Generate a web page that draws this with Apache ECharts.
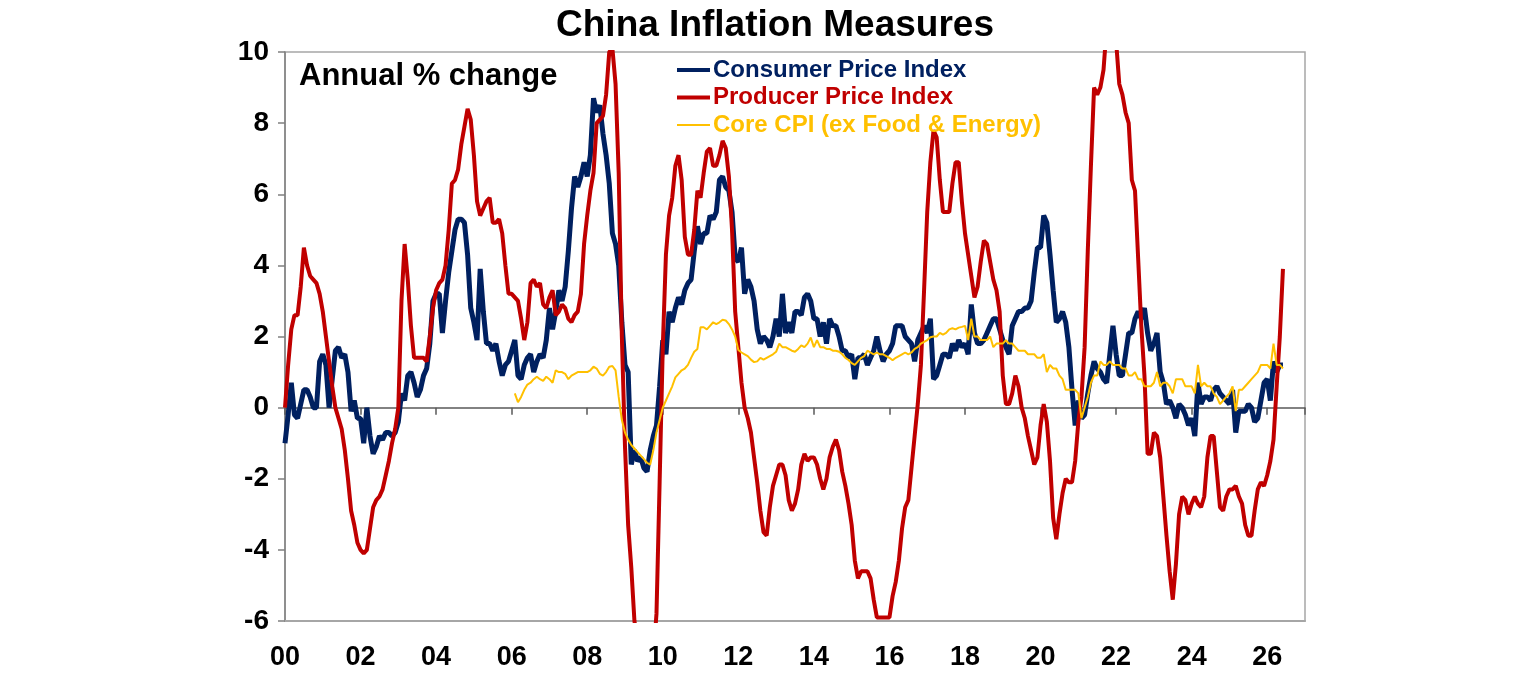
<!DOCTYPE html>
<html>
<head>
<meta charset="utf-8">
<title>China Inflation Measures</title>
<script src="https://cdn.jsdelivr.net/npm/echarts@6/dist/echarts.min.js"></script>
<style>
  html, body { margin: 0; padding: 0; background: #fff; }
  #chart { width: 1536px; height: 680px; }
</style>
</head>
<body>
<div id="chart"></div>
<script>
// monthly series, first point = Dec 1999 (sits on the 2000 axis origin)
var startYear = 2000;

var cpi = [
  -1.0,
  -0.2, 0.7, -0.2, -0.3, 0.1, 0.5, 0.5, 0.3, 0.0, 0.0, 1.3, 1.5,      // 2000
  1.2, 0.0, 0.8, 1.6, 1.7, 1.4, 1.5, 1.0, -0.1, 0.2, -0.3, -0.3,      // 2001
  -1.0, 0.0, -0.8, -1.3, -1.1, -0.8, -0.9, -0.7, -0.7, -0.8, -0.7, -0.4, // 2002
  0.4, 0.2, 0.9, 1.0, 0.7, 0.3, 0.5, 0.9, 1.1, 1.8, 3.0, 3.2,         // 2003
  3.2, 2.1, 3.0, 3.8, 4.4, 5.0, 5.3, 5.3, 5.2, 4.3, 2.8, 2.4,         // 2004
  1.9, 3.9, 2.7, 1.8, 1.8, 1.6, 1.8, 1.3, 0.9, 1.2, 1.3, 1.6,         // 2005
  1.9, 0.9, 0.8, 1.2, 1.4, 1.5, 1.0, 1.3, 1.5, 1.4, 1.9, 2.8,         // 2006
  2.2, 2.7, 3.3, 3.0, 3.4, 4.4, 5.6, 6.5, 6.2, 6.5, 6.9, 6.5,         // 2007
  7.1, 8.7, 8.3, 8.5, 7.7, 7.1, 6.3, 4.9, 4.6, 4.0, 2.4, 1.2,         // 2008
  1.0, -1.6, -1.2, -1.5, -1.4, -1.7, -1.8, -1.2, -0.8, -0.5, 0.6, 1.9, // 2009
  1.5, 2.7, 2.4, 2.8, 3.1, 2.9, 3.3, 3.5, 3.6, 4.4, 5.1, 4.6,         // 2010
  4.9, 4.9, 5.4, 5.3, 5.5, 6.4, 6.5, 6.2, 6.1, 5.5, 4.2, 4.1,         // 2011
  4.5, 3.2, 3.6, 3.4, 3.0, 2.2, 1.8, 2.0, 1.9, 1.7, 2.0, 2.5,         // 2012
  2.0, 3.2, 2.1, 2.4, 2.1, 2.7, 2.7, 2.6, 3.1, 3.2, 3.0, 2.5,         // 2013
  2.5, 2.0, 2.4, 1.8, 2.5, 2.3, 2.3, 2.0, 1.6, 1.6, 1.4, 1.5,         // 2014
  0.8, 1.4, 1.4, 1.5, 1.2, 1.4, 1.6, 2.0, 1.6, 1.3, 1.5, 1.6,         // 2015
  1.8, 2.3, 2.3, 2.3, 2.0, 1.9, 1.8, 1.3, 1.9, 2.1, 2.3, 2.1,         // 2016
  2.5, 0.8, 0.9, 1.2, 1.5, 1.5, 1.4, 1.8, 1.6, 1.9, 1.7, 1.8,         // 2017
  1.5, 2.9, 2.1, 1.8, 1.8, 1.9, 2.1, 2.3, 2.5, 2.5, 2.2, 1.9,         // 2018
  1.7, 1.5, 2.3, 2.5, 2.7, 2.7, 2.8, 2.8, 3.0, 3.8, 4.5, 4.5,         // 2019
  5.4, 5.2, 4.3, 3.3, 2.4, 2.5, 2.7, 2.4, 1.7, 0.5, -0.5, 0.2,        // 2020
  -0.3, -0.2, 0.4, 0.9, 1.3, 1.1, 1.0, 0.8, 0.7, 1.5, 2.3, 1.5,       // 2021
  0.9, 0.9, 1.5, 2.1, 2.1, 2.5, 2.7, 2.5, 2.8, 2.1, 1.6, 1.8,         // 2022
  2.1, 1.0, 0.7, 0.1, 0.2, 0.0, -0.3, 0.1, 0.0, -0.2, -0.5, -0.3,     // 2023
  -0.8, 0.7, 0.1, 0.3, 0.3, 0.2, 0.5, 0.6, 0.4, 0.3, 0.2, 0.1,        // 2024
  0.5, -0.7, -0.1, -0.1, -0.1, 0.1, 0.0, -0.4, -0.3, 0.2, 0.7, 0.8,   // 2025
  0.2, 1.3, 1.0, 1.2, 1.2                                            // 2026
];

var ppi = [
  0.0,
  1.2, 2.2, 2.6, 2.6, 3.4, 4.5, 4.0, 3.7, 3.6, 3.5, 3.2, 2.7,         // 2000
  2.0, 1.3, 0.6, 0.0, -0.3, -0.6, -1.2, -2.0, -2.9, -3.3, -3.8, -4.0, // 2001
  -4.1, -4.0, -3.4, -2.8, -2.6, -2.5, -2.3, -1.9, -1.5, -1.0, -0.6, 0.0, // 2002
  3.0, 4.6, 3.6, 2.3, 1.4, 1.4, 1.4, 1.4, 1.3, 2.0, 2.8, 3.3,         // 2003
  3.5, 3.6, 4.0, 5.0, 6.3, 6.4, 6.7, 7.4, 7.9, 8.4, 8.1, 7.1,         // 2004
  5.8, 5.4, 5.6, 5.8, 5.9, 5.2, 5.2, 5.3, 4.9, 4.0, 3.2, 3.2,         // 2005
  3.1, 3.0, 2.5, 1.9, 2.4, 3.5, 3.6, 3.4, 3.5, 2.9, 2.8, 3.1,         // 2006
  3.3, 2.6, 2.7, 2.9, 2.8, 2.5, 2.4, 2.6, 2.7, 3.2, 4.6, 5.4,         // 2007
  6.1, 6.6, 8.0, 8.1, 8.2, 8.8, 10.0, 10.1, 9.1, 6.6, 2.0, -1.1,      // 2008
  -3.3, -4.5, -6.0, -6.6, -7.2, -7.8, -8.2, -7.9, -7.0, -5.8, -2.1, 1.7, // 2009
  4.3, 5.4, 5.9, 6.8, 7.1, 6.4, 4.8, 4.3, 4.3, 5.0, 6.1, 5.9,         // 2010
  6.6, 7.2, 7.3, 6.8, 6.8, 7.1, 7.5, 7.3, 6.5, 5.0, 2.7, 1.7,         // 2011
  0.7, 0.0, -0.3, -0.7, -1.4, -2.1, -2.9, -3.5, -3.6, -2.8, -2.2, -1.9, // 2012
  -1.6, -1.6, -1.9, -2.6, -2.9, -2.7, -2.3, -1.6, -1.3, -1.5, -1.4, -1.4, // 2013
  -1.6, -2.0, -2.3, -2.0, -1.4, -1.1, -0.9, -1.2, -1.8, -2.2, -2.7, -3.3, // 2014
  -4.3, -4.8, -4.6, -4.6, -4.6, -4.8, -5.4, -5.9, -5.9, -5.9, -5.9, -5.9, // 2015
  -5.3, -4.9, -4.3, -3.4, -2.8, -2.6, -1.7, -0.8, 0.1, 1.2, 3.3, 5.5, // 2016
  6.9, 7.8, 7.6, 6.4, 5.5, 5.5, 5.5, 6.3, 6.9, 6.9, 5.8, 4.9,         // 2017
  4.3, 3.7, 3.1, 3.4, 4.1, 4.7, 4.6, 4.1, 3.6, 3.3, 2.7, 0.9,         // 2018
  0.1, 0.1, 0.4, 0.9, 0.6, 0.0, -0.3, -0.8, -1.2, -1.6, -1.4, -0.5,   // 2019
  0.1, -0.4, -1.5, -3.1, -3.7, -3.0, -2.4, -2.0, -2.1, -2.1, -1.5, -0.4, // 2020
  0.3, 1.7, 4.4, 6.8, 9.0, 8.8, 9.0, 9.5, 10.7, 13.5, 12.9, 10.3,     // 2021
  9.1, 8.8, 8.3, 8.0, 6.4, 6.1, 4.2, 2.3, 0.9, -1.3, -1.3, -0.7,      // 2022
  -0.8, -1.4, -2.5, -3.6, -4.6, -5.4, -4.4, -3.0, -2.5, -2.6, -3.0, -2.7, // 2023
  -2.5, -2.7, -2.8, -2.5, -1.4, -0.8, -0.8, -1.8, -2.8, -2.9, -2.5, -2.3, // 2024
  -2.3, -2.2, -2.5, -2.7, -3.3, -3.6, -3.6, -2.9, -2.3, -2.1, -2.2, -1.9, // 2025
  -1.5, -0.9, 0.6, 2.0, 3.9                                          // 2026
];

// core CPI starts Jan 2006 (73 months after the first point)
var coreStart = 73;
var core = [
  0.4, 0.15, 0.3, 0.5, 0.65, 0.7, 0.8, 0.87, 0.8, 0.75, 0.87, 0.8,    // 2006
  0.7, 1.05, 1.0, 1.0, 0.95, 0.8, 0.9, 0.95, 1.0, 1.0, 1.0, 1.0,      // 2007
  1.05, 1.15, 1.1, 0.95, 0.9, 1.0, 1.15, 1.17, 1.05, 0.3, -0.35, -0.7, // 2008
  -0.9, -1.05, -1.15, -1.25, -1.35, -1.45, -1.55, -1.6, -1.2, -0.7, -0.35, 0.0, // 2009
  0.2, 0.4, 0.6, 0.85, 0.95, 1.05, 1.1, 1.2, 1.4, 1.57, 1.65, 2.26,   // 2010
  2.26, 2.2, 2.3, 2.4, 2.35, 2.4, 2.47, 2.45, 2.35, 2.2, 2.0, 1.62,   // 2011
  1.55, 1.5, 1.45, 1.35, 1.28, 1.3, 1.4, 1.35, 1.4, 1.45, 1.5, 1.57,  // 2012
  1.8, 1.7, 1.7, 1.65, 1.6, 1.57, 1.65, 1.75, 1.7, 1.8, 1.97, 1.7,    // 2013
  1.9, 1.7, 1.7, 1.65, 1.65, 1.6, 1.6, 1.57, 1.5, 1.4, 1.34, 1.25,    // 2014
  1.2, 1.3, 1.4, 1.45, 1.6, 1.55, 1.5, 1.55, 1.5, 1.5, 1.45, 1.4,     // 2015
  1.33, 1.4, 1.45, 1.5, 1.55, 1.5, 1.55, 1.65, 1.7, 1.8, 1.85, 1.9,   // 2016
  1.98, 2.0, 2.0, 2.1, 2.05, 2.1, 2.2, 2.23, 2.2, 2.25, 2.27, 2.3,    // 2017
  1.9, 2.5, 2.0, 2.0, 1.9, 1.9, 1.9, 2.0, 1.7, 1.8, 1.8, 1.8,         // 2018
  1.9, 1.8, 1.8, 1.7, 1.6, 1.6, 1.6, 1.5, 1.5, 1.5, 1.4, 1.4,         // 2019
  1.5, 1.0, 1.2, 1.1, 1.1, 0.9, 0.8, 0.5, 0.5, 0.5, 0.5, 0.4,         // 2020
  -0.3, 0.0, 0.3, 0.7, 0.9, 0.9, 1.3, 1.2, 1.2, 1.3, 1.2, 1.2,        // 2021
  1.2, 1.1, 1.1, 0.9, 0.9, 1.0, 0.8, 0.8, 0.6, 0.6, 0.6, 0.7,         // 2022
  1.0, 0.6, 0.7, 0.7, 0.6, 0.4, 0.8, 0.8, 0.8, 0.6, 0.6, 0.6,         // 2023
  0.4, 1.2, 0.6, 0.7, 0.6, 0.6, 0.4, 0.3, 0.1, 0.2, 0.3, 0.4,         // 2024
  0.6, -0.1, 0.5, 0.5, 0.6, 0.7, 0.8, 0.9, 1.0, 1.2, 1.2, 1.2,        // 2025
  1.1, 1.8, 1.2, 1.2, 1.1                                            // 2026
];

var yearLabels = ['00', '02', '04', '06', '08', '10', '12', '14', '16', '18', '20', '22', '24', '26'];
var seriesNames = ['Consumer Price Index', 'Producer Price Index', 'Core CPI (ex Food & Energy)'];
var seriesColors = ['#002060', '#C00000', '#FFC000'];
var seriesWidths = [5, 4, 2];

function toPoints(values, offset) {
  return values.map(function (v, i) {
    return [startYear + (offset + i) / 12, v];
  });
}

var font = "'Liberation Sans', Arial, sans-serif";
var chart = echarts.init(document.getElementById('chart'));

var option = {
  backgroundColor: '#fff',
  animation: false,
  textStyle: { fontFamily: font },
  legend: {
    orient: 'vertical',
    left: 670,
    top: 53,
    itemGap: 3.5,
    itemWidth: 33,
    itemHeight: 20,
    itemStyle: { opacity: 0 },
    textStyle: { fontFamily: font, fontSize: 24, fontWeight: 'bold', lineHeight: 24, padding: [0, 0, 0, -2] },
    data: seriesNames.map(function (n, i) {
      return {
        name: n,
        textStyle: { color: seriesColors[i] },
        lineStyle: { width: Math.min(seriesWidths[i], 4) }
      };
    })
  },
  graphic: [{
    type: 'text',
    x: 775,
    y: 7,
    style: { text: 'China Inflation Measures', font: 'bold 37px ' + font, fill: '#000', textAlign: 'center' }
  }, {
    type: 'text',
    x: 299,
    y: 61,
    style: { text: 'Annual % change', font: 'bold 31px ' + font, fill: '#000' }
  }],
  grid: {
    left: 285, right: 231, top: 52, bottom: 59,
    show: true, borderColor: '#a6a6a6', borderWidth: 1.5
  },
  xAxis: [{
    type: 'value', min: 2000, max: 2027, interval: 2,
    axisLine: { onZero: false, lineStyle: { color: '#a6a6a6', width: 2 } },
    axisTick: { show: false },
    splitLine: { show: false },
    axisLabel: {
      margin: 23, color: '#000', fontSize: 27, fontWeight: 'bold', fontFamily: font,
      formatter: function (v) { return yearLabels[(v - 2000) / 2] || ''; }
    }
  }, {
    type: 'value', min: 2000, max: 2027, interval: 2, position: 'bottom',
    axisLine: { onZero: true, lineStyle: { color: '#595959', width: 1.5 } },
    axisTick: { show: true, length: 7, lineStyle: { color: '#595959', width: 1.5 } },
    axisLabel: { show: false },
    splitLine: { show: false }
  }],
  yAxis: {
    type: 'value', min: -6, max: 10, interval: 2,
    axisLine: { show: true, onZero: false, lineStyle: { color: '#808080', width: 1.5 } },
    axisTick: { show: true, length: 7, lineStyle: { color: '#808080', width: 1.5 } },
    splitLine: { show: false },
    axisLabel: { margin: 16, color: '#000', fontSize: 28, fontWeight: 'bold', fontFamily: font }
  },
  series: seriesNames.map(function (n, i) {
    var values = [cpi, ppi, core][i];
    var offset = i === 2 ? coreStart : 0;
    return {
      name: n, type: 'line', xAxisIndex: 0,
      data: toPoints(values, offset), symbol: 'none', clip: true,
      lineStyle: { color: seriesColors[i], width: seriesWidths[i] },
      itemStyle: { color: seriesColors[i] }
    };
  })
};

chart.setOption(option);
</script>
</body>
</html>
